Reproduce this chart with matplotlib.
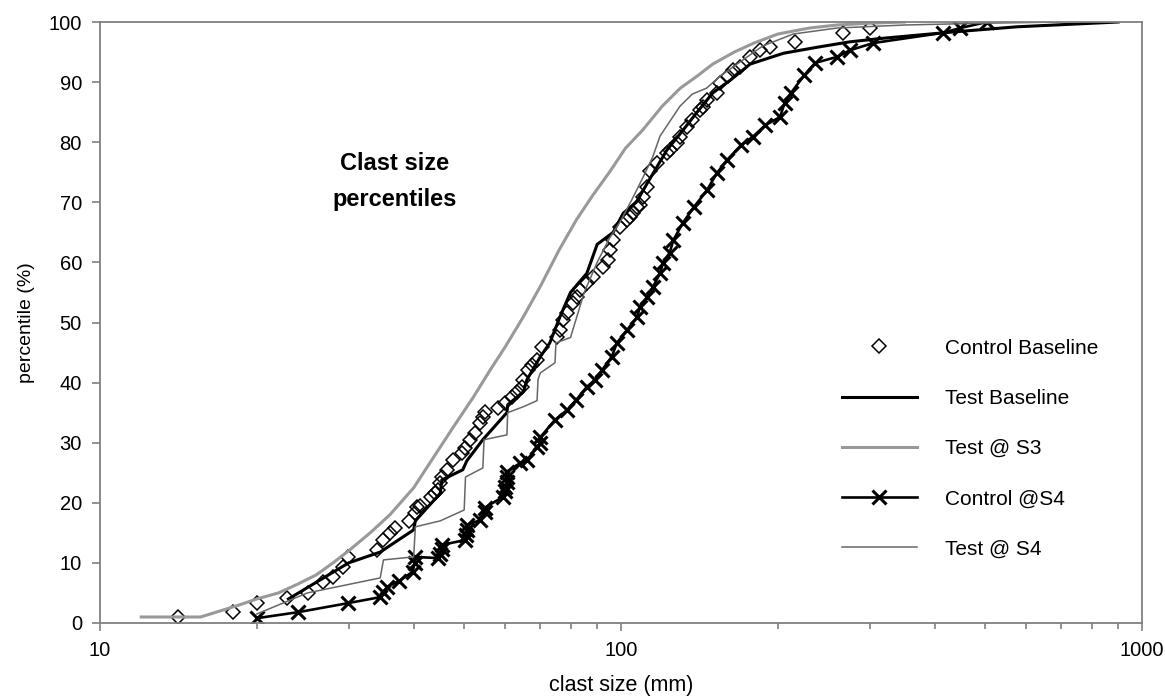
import matplotlib
matplotlib.use('Agg')
import matplotlib.pyplot as plt
from matplotlib.lines import Line2D
from matplotlib.ticker import FixedLocator, FuncFormatter, LogLocator, NullFormatter

plt.rcParams['font.family'] = ['Liberation Sans', 'DejaVu Sans']

# Control Baseline (diamonds only)
cb_size = [14.1, 18.0, 20.0, 22.9, 25.1, 26.8, 28.0, 29.3, 29.9, 34.0, 34.9, 36.0,
           36.8, 39.2, 40.2, 40.6, 41.1, 43.2, 44.0, 44.6, 45.0, 45.3, 46.4, 47.6,
           49.5, 50.2, 51.3, 52.5, 53.6, 54.3, 54.8, 58.1, 59.9, 61.8, 63.1, 64.5,
           64.9, 66.3, 67.5, 69.0, 70.5, 75.4, 76.4, 77.4, 78.7, 80.9, 82.4, 83.4,
           86.0, 88.4, 92.3, 94.4, 95.2, 96.6, 99.6, 102.8, 104.0, 105.4, 107.4, 108.7,
           110.2, 112.2, 113.8, 117.3, 122.5, 124.2, 128.0, 129.8, 134.0, 137.0, 141.8, 143.6,
           146.2, 152.9, 154.9, 160.5, 164.1, 169.2, 176.9, 184.9, 193.2, 215.8, 266.8, 300.6]
cb_pct = [1.0, 1.8, 3.3, 4.1, 5.0, 6.8, 7.6, 9.3, 11.0, 12.1, 13.8, 15.0,
          15.8, 17.0, 18.3, 19.3, 19.5, 21.0, 21.6, 22.1, 23.3, 24.3, 25.5, 27.1,
          28.3, 29.1, 30.5, 31.6, 33.3, 34.3, 35.1, 35.8, 36.6, 37.6, 38.4, 39.3,
          40.4, 42.1, 42.9, 43.8, 45.9, 47.6, 48.8, 50.4, 51.6, 53.2, 54.2, 55.4,
          56.6, 57.6, 59.2, 60.4, 62.1, 63.7, 65.9, 67.1, 67.6, 68.2, 69.2, 69.6,
          70.9, 72.5, 75.2, 76.5, 78.2, 78.7, 79.9, 80.9, 82.5, 83.7, 85.4, 85.9,
          87.0, 88.2, 89.9, 91.0, 92.0, 92.5, 94.2, 95.3, 95.8, 96.7, 98.2, 99.0]

# Test Baseline (thick black line)
tb_size = [23.0, 30.0, 34.5, 40.0, 40.3, 45.0, 45.3, 49.7, 50.6, 54.3, 60.4, 60.6,
           65.0, 66.0, 70.0, 73.0, 76.4, 80.0, 86.0, 90.0, 96.6, 101.0, 107.0, 112.0,
           122.5, 131.5, 140.0, 150.0, 162.0, 177.0, 205.0, 238.0, 275.0, 319.0, 428.0, 575.0,
           900.0]
tb_pct = [4.0, 10.0, 11.8, 15.5, 17.0, 21.6, 23.8, 25.5, 27.0, 30.5, 35.0, 36.3,
          38.5, 40.5, 44.3, 46.6, 51.0, 55.0, 58.2, 63.0, 65.0, 68.2, 70.0, 73.0,
          78.7, 82.0, 85.0, 88.2, 90.3, 93.0, 94.8, 95.8, 96.7, 97.3, 98.3, 99.2,
          100.0]

# Test @ S3 (thick grey line)
s3_size = [12.0, 15.6, 17.0, 18.5, 20.0, 22.0, 24.0, 26.0, 28.0, 30.0, 33.0, 36.0,
           40.0, 44.0, 48.0, 52.0, 56.0, 60.0, 65.0, 70.0, 76.0, 82.0, 88.0, 95.0,
           102.0, 110.0, 120.0, 130.0, 140.0, 150.0, 165.0, 180.0, 200.0, 230.0, 260.0, 300.0,
           350.0]
s3_pct = [1.0, 1.0, 2.0, 3.0, 4.0, 5.0, 6.5, 8.0, 10.0, 12.0, 15.0, 18.0,
          22.5, 28.0, 33.0, 37.5, 42.0, 46.0, 51.0, 56.0, 62.0, 67.0, 71.0, 75.0,
          79.0, 82.0, 86.0, 89.0, 91.0, 93.0, 95.0, 96.5, 98.0, 99.0, 99.5, 99.8,
          100.0]

# Control @S4 (black line with x markers)
c4_size = [20.0, 24.0, 29.9, 34.5, 35.0, 35.6, 37.5, 39.8, 40.2, 40.2, 44.5, 45.0,
           45.3, 45.3, 50.2, 50.4, 50.6, 50.6, 53.6, 54.8, 54.8, 59.4, 59.9, 59.9,
           60.4, 60.4, 60.4, 64.0, 66.0, 69.0, 70.0, 70.0, 74.7, 78.7, 82.0, 86.0,
           89.0, 92.0, 96.0, 98.2, 102.8, 107.4, 108.7, 112.2, 115.2, 118.8, 120.4, 124.0,
           126.0, 131.5, 138.0, 146.2, 152.9, 159.6, 170.0, 179.1, 189.0, 202.0, 206.0, 212.0,
           225.0, 236.0, 260.0, 275.0, 305.0, 415.0, 448.0, 504.0]
c4_pct = [0.8, 1.8, 3.3, 4.3, 5.2, 6.0, 7.0, 8.5, 10.0, 11.0, 10.8, 11.5,
          12.3, 13.0, 13.8, 14.6, 15.5, 16.3, 17.1, 18.5, 19.2, 21.0, 22.0, 22.6,
          23.5, 24.3, 25.2, 26.6, 27.1, 29.3, 30.0, 30.9, 33.8, 35.4, 37.1, 39.3,
          40.4, 42.1, 44.3, 46.6, 48.8, 50.9, 52.6, 54.2, 55.9, 58.2, 59.9, 61.6,
          63.7, 66.6, 69.2, 72.0, 74.9, 77.0, 79.5, 80.9, 82.8, 84.2, 86.5, 88.2,
          91.2, 93.2, 94.2, 95.3, 96.5, 98.2, 99.0, 100.0]

# Test @ S4 (thin grey stepped line)
t4_size = [20.0, 25.0, 34.5, 35.0, 40.0, 40.3, 45.0, 50.0, 50.3, 54.3, 54.6, 60.4,
           60.6, 65.0, 69.0, 69.3, 70.0, 74.7, 75.0, 80.0, 85.0, 90.0, 95.0, 100.0,
           105.0, 110.0, 115.0, 118.8, 129.8, 137.0, 146.0, 155.0, 167.0, 187.0, 214.0, 260.0,
           350.0, 500.0, 700.0]
t4_pct = [1.5, 5.0, 7.5, 10.5, 11.0, 16.0, 17.0, 18.8, 24.3, 25.8, 30.5, 31.3,
          35.0, 36.0, 37.0, 40.5, 41.6, 43.3, 46.6, 47.5, 55.0, 60.0, 64.0, 67.0,
          70.5, 74.0, 77.5, 81.0, 86.0, 88.0, 89.0, 91.0, 93.0, 96.0, 98.0, 99.0,
          99.5, 99.8, 100.0]

legend_labels = ['Control Baseline', 'Test Baseline', 'Test @ S3', 'Control @S4', 'Test @ S4']

W, H = 1165, 697
fig = plt.figure(figsize=(W / 100, H / 100), dpi=100)
ax = fig.add_axes([100 / W, 74 / H, 1042 / W, 601 / H])

grey = '#999999'
axis_grey = '#808080'

ax.plot(cb_size, cb_pct, linestyle='none', marker='D', markersize=6.8,
        markerfacecolor='none', markeredgecolor='black', markeredgewidth=1.1)
ax.plot(tb_size, tb_pct, color='black', linewidth=2.2)
ax.plot(s3_size, s3_pct, color=grey, linewidth=2.2)
ax.plot(c4_size, c4_pct, color='black', linewidth=1.9, marker='x', markersize=9.5,
        markeredgewidth=2.2)
ax.plot(t4_size, t4_pct, color='#666666', linewidth=1.1)

ax.set_xscale('log')
ax.set_xlim(10, 1000)
ax.set_ylim(0, 100)
ax.yaxis.set_major_locator(FixedLocator(range(0, 101, 10)))
ax.xaxis.set_major_locator(FixedLocator([10, 100, 1000]))
ax.xaxis.set_minor_locator(LogLocator(base=10, subs=range(2, 10)))
ax.xaxis.set_major_formatter(FuncFormatter(lambda v, p: f'{v:g}'))
ax.xaxis.set_minor_formatter(NullFormatter())

for s in ax.spines.values():
    s.set_color(axis_grey)
    s.set_linewidth(1.3)

ax.tick_params(axis='both', which='major', direction='out', length=6, width=1.2,
               color=axis_grey, labelsize=14.5, labelcolor='black', pad=7)
ax.tick_params(axis='x', which='minor', direction='out', length=4, width=1.2,
               color=axis_grey)

ax.set_xlabel('clast size (mm)', fontsize=15.5, labelpad=11)
ax.set_ylabel('percentile (%)', fontsize=14, labelpad=10)

ax.text(0.283, 0.735, 'Clast size\npercentiles', transform=ax.transAxes,
        ha='center', va='center', fontsize=17, fontweight='bold', linespacing=1.75)

handles = [
    Line2D([], [], linestyle='none', marker='D', markersize=6.8, markerfacecolor='none',
           markeredgecolor='black', markeredgewidth=1.1),
    Line2D([], [], color='black', linewidth=2.2),
    Line2D([], [], color=grey, linewidth=2.2),
    Line2D([], [], color='black', linewidth=1.9, marker='x', markersize=9.5, markeredgewidth=2.2),
    Line2D([], [], color='#666666', linewidth=1.1),
]
ax.legend(handles, legend_labels, loc='upper left', bbox_to_anchor=(0.712, 0.473),
          frameon=False, fontsize=15, numpoints=1, handlelength=3.6, handletextpad=1.35,
          labelspacing=1.5, borderpad=0, borderaxespad=0)

fig.savefig('out.png', dpi=100)
